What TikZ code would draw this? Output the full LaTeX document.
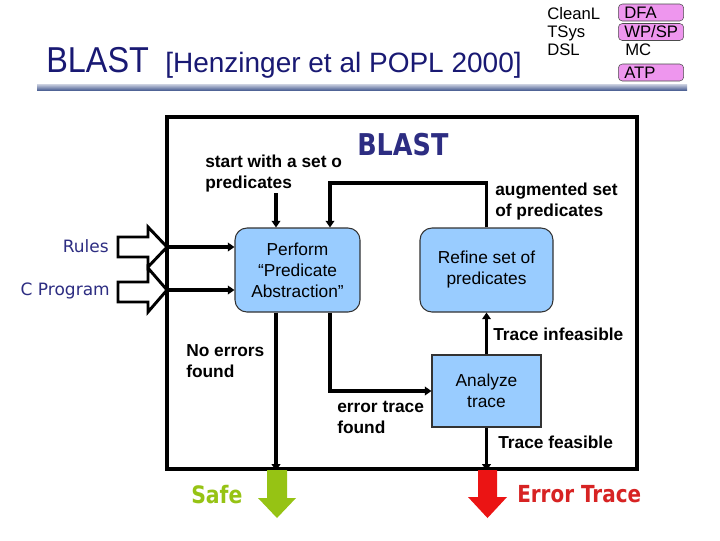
\documentclass[tikz,border=0pt]{standalone}
\usepackage{fontspec}
\usepackage{graphicx}
\setmainfont{Liberation Sans}
\newfontfamily\dv{DejaVu Sans}
\newfontfamily\dvc[FakeStretch=0.85]{DejaVu Sans}
\usetikzlibrary{arrows.meta}
\definecolor{navy}{RGB}{25,25,115}
\definecolor{dnavy}{RGB}{45,45,130}
\definecolor{boxblue}{RGB}{153,204,255}
\definecolor{pinkbox}{RGB}{238,150,238}
\definecolor{safegreen}{RGB}{150,195,20}
\definecolor{errred}{RGB}{235,20,20}
\definecolor{errtext}{RGB}{215,35,35}
\definecolor{bartop}{RGB}{205,210,225}
\definecolor{barbot}{RGB}{80,100,150}
\begin{document}
\begin{tikzpicture}[x=0.75pt,y=-0.75pt,
  proc/.style={draw=black!80, line width=0.8pt, fill=boxblue, rounded corners=9pt,
    align=center, font=\fontsize{13}{15.75}\selectfont, inner sep=0pt},
  lab/.style={font=\bfseries\fontsize{13}{15.75}\selectfont, align=left, inner sep=0pt, anchor=north west},
  flow/.style={line width=2.6pt, -{Triangle[length=5pt,width=6.5pt]}},
  blockarrow/.style={draw, fill=white, line width=2.2pt, line join=miter},
  pinklab/.style={draw=black!70, fill=pinkbox, rounded corners=3pt, text width=40pt, align=left,
    inner xsep=4.5pt, inner ysep=0pt, minimum height=12.75pt, font=\fontsize{12.5}{14}\selectfont},
  trlab/.style={anchor=base west, inner sep=0pt, font=\fontsize{12.5}{14}\selectfont}
]
\useasboundingbox (0,0) rectangle (720,540);
\fill[white] (0,0) rectangle (720,540);

% title
\node[anchor=base west, inner sep=0pt, text=navy, font=\fontsize{27}{30}\selectfont] (t1) at (46,72) {\scalebox{0.9}[1]{BLAST}};
\node[anchor=base west, inner sep=0pt, text=navy, font=\fontsize{21}{24}\selectfont] (t2) at (165,72) {[Henzinger et al POPL 2000]};
\shade[top color=bartop, bottom color=barbot] (37,84) rectangle (687,90);

% top right
\node[trlab] (cl) at (547,19) {CleanL};
\node[trlab] (ts) at (547,37.5) {TSys};
\node[trlab] (ds) at (547,55.5) {DSL};
\node[pinklab] (dfa) at (651,12.5) {DFA};
\node[pinklab] (wp) at (651,32) {WP/SP};
\node[trlab] (mc) at (625,55.5) {MC};
\node[pinklab] (atp) at (651,72.5) {ATP};

% outer box
\node[draw, line width=2.6pt, minimum width=352.5pt, minimum height=264pt, inner sep=0pt] (outer) at (402,293) {};
\node[anchor=base west, inner sep=0pt, text=dnavy, font=\dvc\bfseries\fontsize{22.5}{24}\selectfont] (bl) at (357,155) {BLAST};

% processes
\node[proc, minimum width=93.75pt, minimum height=63pt] (perform) at (297.5,270) {Perform\\“Predicate\\Abstraction”};
\node[proc, minimum width=99.75pt, minimum height=63pt] (refine) at (486.5,270) {Refine set of\\predicates};
\node[proc, rounded corners=0pt, minimum width=81.75pt, minimum height=54pt] (analyze) at (486.5,391) {Analyze\\trace};

% coordinates
\coordinate (xa) at (276,0);
\coordinate (xb) at (330,0);
\coordinate (st) at (276,193);
\coordinate (fb) at (330,183);
\coordinate (rin) at (167,247);
\coordinate (cin) at (167,290);

% connectors
\draw[flow] (st) -- (st |- perform.north);
\draw[flow] (refine.north) |- (fb) -- (fb |- perform.north);
\draw[flow] (rin) -- (rin -| perform.west);
\draw[flow] (cin) -- (cin -| perform.west);
\draw[flow] (perform.south -| xa) -- (outer.south -| xa);
\draw[flow] (perform.south -| xb) |- (analyze.west);
\draw[flow] (analyze.north) -- (refine.south);
\draw[flow] (analyze.south) -- (analyze.south |- outer.south);

% input block arrows
\draw[blockarrow] (118,237) -- (148,237) -- (148,227) -- (167,247) -- (148,267) -- (148,257) -- (118,257) -- cycle;
\draw[blockarrow] (118,282) -- (148,282) -- (148,268) -- (167,290) -- (148,312) -- (148,302) -- (118,302) -- cycle;
\node[anchor=base east, inner sep=0pt, text=dnavy, font=\dv\fontsize{12.75}{15}\selectfont] (rules) at (109,252) {Rules};
\node[anchor=base east, inner sep=0pt, text=dnavy, font=\dv\fontsize{12.75}{15}\selectfont] (cprog) at (110,295) {C Program};

% labels
\node[lab] (l1) at (205,154.4) {start with a set o\\predicates};
\node[lab] (l2) at (495,182.4) {augmented set\\of predicates};
\node[lab] (l3) at (186,344.6) {No errors\\found};
\node[lab] (l4) at (337,401.4) {error trace\\found};
\node[lab, anchor=base west] (l5) at (493,340) {Trace infeasible};
\node[lab, anchor=base west] (l6) at (498,448) {Trace feasible};

% outputs
\fill[safegreen] (267,470) -- (287,470) -- (287,498) -- (296,498) -- (277,518) -- (258,498) -- (267,498) -- cycle;
\fill[errred] (478,470) -- (497,470) -- (497,497) -- (507,497) -- (487.5,518) -- (468,497) -- (478,497) -- cycle;
\node[anchor=base west, inner sep=0pt, text=safegreen, font=\dvc\bfseries\fontsize{18}{20}\selectfont] (safe) at (191,503) {Safe};
\node[anchor=base west, inner sep=0pt, text=errtext, font=\dvc\bfseries\fontsize{17.6}{20}\selectfont] (et) at (517,502) {Error Trace};
\end{tikzpicture}
\end{document}
